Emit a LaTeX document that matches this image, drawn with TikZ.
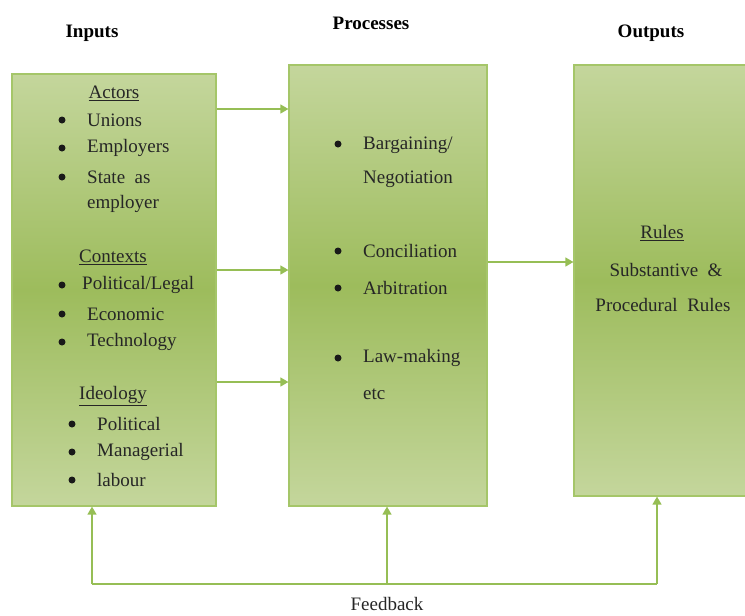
\documentclass[tikz,border=0pt]{standalone}
\usepackage{fontspec}
\setmainfont{Liberation Serif}
\usetikzlibrary{arrows.meta}
\definecolor{gLight}{RGB}{196,214,156}
\definecolor{gMid}{RGB}{157,188,92}
\definecolor{gEdge}{RGB}{165,198,105}
\definecolor{gLine}{RGB}{150,190,85}
\begin{document}
\begin{tikzpicture}[x=1pt,y=-1pt,
  box/.style={draw=gEdge,line width=1.2pt,rectangle,top color=gLight,bottom color=gLight,middle color=gMid,inner sep=0pt},
  txt/.style={font=\fontsize{19}{22}\selectfont,inner sep=0pt,text=black!85},
  lt/.style={txt,anchor=west},
  bul/.style={circle,fill=black!90,minimum size=7pt,inner sep=0pt},
  head/.style={font=\fontsize{19}{22}\selectfont\bfseries,inner sep=0pt},
  arr/.style={draw=gLine,line width=1.4pt,-{Triangle[width=9pt,length=8pt]}},
  ln/.style={draw=gLine,line width=1.4pt}]
\useasboundingbox (0,0) rectangle (745,616);
% boxes
\node[box,minimum width=204pt,minimum height=432pt] (inp) at (114,290) {};
\node[box,minimum width=198pt,minimum height=441pt] (proc) at (388,285.5) {};
\node[box,minimum width=173pt,minimum height=431pt] (outp) at (660.5,280.5) {};
% headers
\node[head] (hI) at (92,33) {Inputs};
\node[head] (hP) at (371,23) {Processes};
\node[head] (hO) at (651,33) {Outputs};
% inputs text
\node[txt] (actors) at (114,93) {\underline{Actors}};
\node[bul] (b1) at (62,120) {}; \node[lt] (t1) at (87,120) {Unions};
\node[bul] (b2) at (62,148) {}; \node[lt] (t2) at (87,148) {Employers};
\node[bul] (b3) at (62,177) {}; \node[lt] (t3) at (87,177) {State\ \ as};
\node[lt] (t3b) at (87,204) {employer};
\node[txt] (ctx) at (113,257) {\underline{Contexts}};
\node[bul] (b4) at (62,285) {}; \node[lt] (t4) at (82,285) {Political/Legal};
\node[bul] (b5) at (62,314) {}; \node[lt] (t5) at (87,314) {Economic};
\node[bul] (b6) at (62,342) {}; \node[lt] (t6) at (87,342) {Technology};
\node[txt] (ideo) at (113,396) {\underline{Ideology}};
\node[bul] (b7) at (72,424) {}; \node[lt] (t7) at (97,424) {Political};
\node[bul] (b8) at (72,452) {}; \node[lt] (t8) at (97,452) {Managerial};
\node[bul] (b9) at (72,480) {}; \node[lt] (t9) at (97,480) {labour};
% processes text
\node[bul] (p1b) at (338,144) {}; \node[lt] (p1) at (363,145) {Bargaining/};
\node[lt] (p1c) at (363,179) {Negotiation};
\node[bul] (p2b) at (338,251) {}; \node[lt] (p2) at (363,251) {Conciliation};
\node[bul] (p3b) at (338,288) {}; \node[lt] (p3) at (363,288) {Arbitration};
\node[bul] (p4b) at (338,358) {}; \node[lt] (p4) at (363,358) {Law-making};
\node[lt] (p4c) at (363,394) {etc};
% outputs text
\node[txt] (rules) at (662,233) {\underline{Rules}};
\node[txt] (sub) at (666,270) {Substantive\ \ \&};
\node[txt] (procr) at (663,305) {Procedural\ \ Rules};
% arrows
\draw[arr] (inp.east |- 0,109) -- (proc.west |- 0,109);
\draw[arr] (inp.east |- 0,270) -- (proc.west |- 0,270);
\draw[arr] (inp.east |- 0,382) -- (proc.west |- 0,382);
\draw[arr] (proc.east |- 0,262) -- (outp.west |- 0,262);
% feedback
\coordinate (fL) at (92,584);
\coordinate (fM) at (387,584);
\coordinate (fR) at (657,584);
\draw[ln] (fL) -- (fR);
\draw[arr] (fL) -- (fL |- inp.south);
\draw[arr] (fM) -- (fM |- proc.south);
\draw[arr] (fR) -- (fR |- outp.south);
\node[txt] (fb) at (387,604) {Feedback};
\end{tikzpicture}
\end{document}
